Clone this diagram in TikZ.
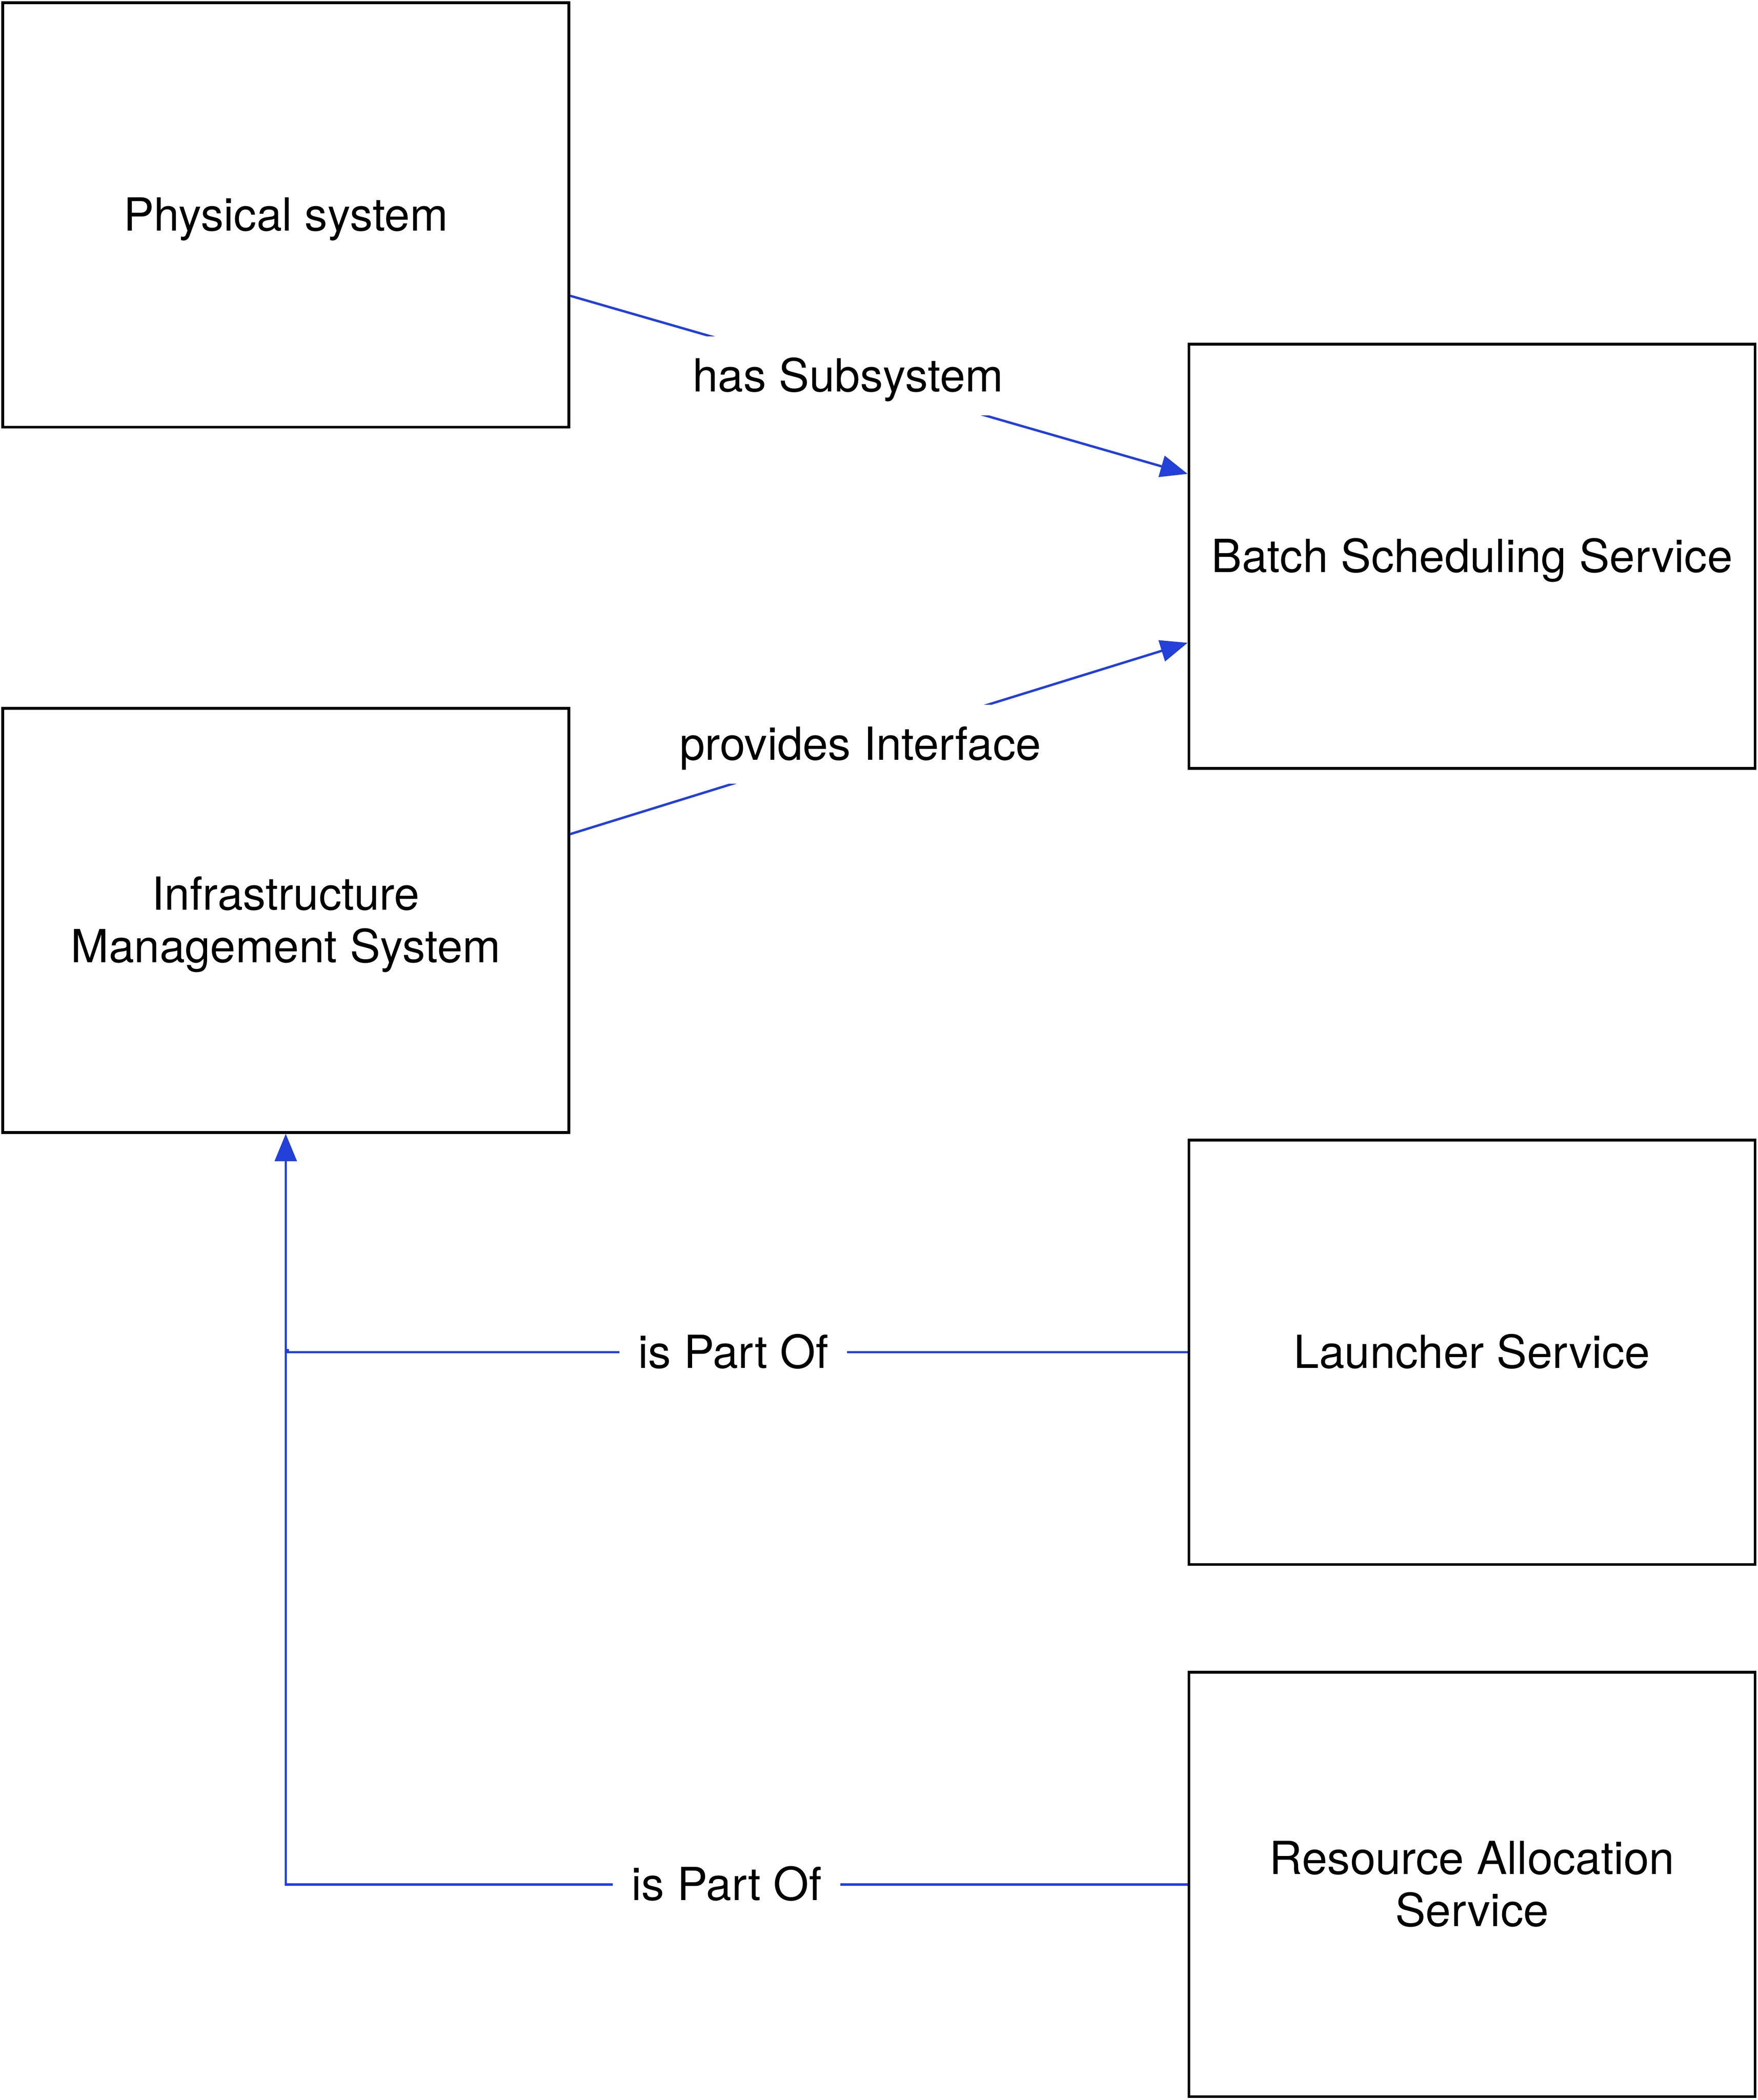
\documentclass[tikz,border=0pt]{standalone}
\usepackage{fontspec}
\setmainfont{TeX Gyre Heros}
\usetikzlibrary{arrows.meta}
\definecolor{linkblue}{RGB}{34,64,216}
\newcommand{\ls}{\rule[-3pt]{0pt}{15.3pt}}
\begin{document}
\begin{tikzpicture}[
  box/.style={draw=black, line width=0.8pt, minimum width=166.9pt, minimum height=125.1pt, align=center, inner sep=0pt, font=\fontsize{13.45}{15.4}\selectfont},
  link/.style={draw=linkblue, line width=0.7pt},
  arr/.style={link, -{Triangle[length=8pt,width=6.4pt]}},
  lbl/.style={fill=white, inner xsep=5.5pt, inner ysep=4pt, text=black, font=\fontsize{13.45}{15.4}\selectfont}
]
\useasboundingbox (0,0) rectangle (518.3pt,-619.1pt);
\node[box] (phys)   at (84.25pt,-63.35pt)  {\ls Physical system};
\node[box] (batch)  at (434.0pt,-164.0pt)  {\ls Batch Scheduling Service};
\node[box] (infra)  at (84.25pt,-271.35pt) {\ls Infrastructure\\\ls Management System};
\node[box] (launch) at (434.0pt,-398.65pt) {\ls Launcher Service};
\node[box] (res)    at (434.0pt,-555.55pt) {\ls Resource Allocation\\\ls Service};

\draw[arr] ([yshift=-23.85pt]phys.east) -- node[lbl, pos=0.45] {\ls has Subsystem} ([yshift=24.3pt]batch.west);
\draw[arr] ([yshift=25.45pt]infra.east) -- node[lbl, pos=0.47] {\ls provides Interface} ([yshift=-25.5pt]batch.west);

\coordinate (jog) at ([xshift=0.6pt]launch.west -| infra.south);
\draw[arr] (launch.west) -- node[lbl, pos=0.505] {\ls is Part Of} (jog) -- ++(0,0.6pt) -| (infra.south);
\draw[arr] (res.west) -| node[lbl, pos=0.2556] {\ls is Part Of} (infra.south);
\end{tikzpicture}
\end{document}
